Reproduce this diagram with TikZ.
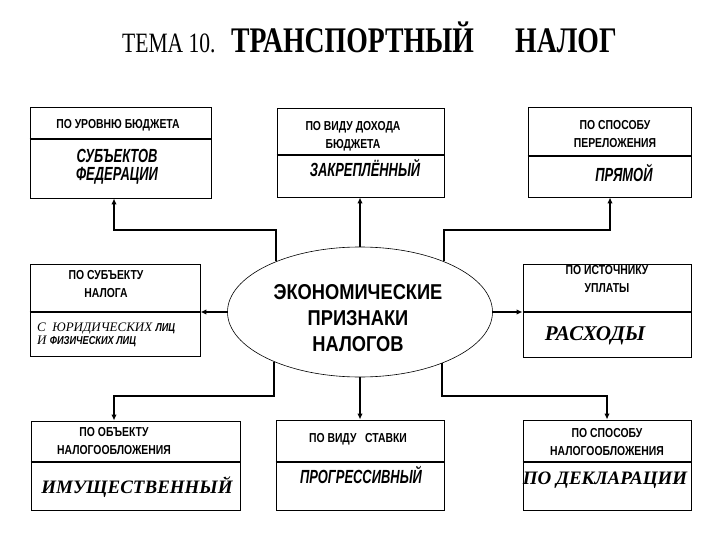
\documentclass[tikz,border=0pt]{standalone}
\usepackage{fontspec}
\setmainfont{Liberation Serif}
\newfontfamily\ttlf[FakeStretch=0.77]{Liberation Serif}
\newfontfamily\hdf[FakeStretch=0.8]{Liberation Sans}
\newfontfamily\vlf[FakeStretch=0.68]{Liberation Sans}
\newfontfamily\elf[FakeStretch=0.85]{Liberation Sans}
\usetikzlibrary{shapes.geometric,arrows.meta}
\begin{document}
\begin{tikzpicture}[x=1pt,y=-1pt,
  box/.style={draw, line width=0.9pt, inner sep=0pt},
  divline/.style={line width=1.6pt},
  conn/.style={line width=1.6pt, -{Latex[length=6pt,width=5.5pt]}},
  hdr/.style={font=\hdf\bfseries\fontsize{13}{18}\selectfont, align=center, inner sep=0pt},
  val/.style={font=\vlf\bfseries\itshape\fontsize{19}{18}\selectfont, align=center, inner sep=0pt},
  tval/.style={font=\bfseries\itshape\fontsize{19}{22}\selectfont, inner sep=0pt},
  ttl/.style={inner sep=0pt, anchor=base west},
]
\useasboundingbox (0,0) rectangle (720,540);

% title
\node[ttl, font=\ttlf\fontsize{28}{30}\selectfont] (t1) at (122,53) {ТЕМА 10.};
\node[ttl, font=\ttlf\bfseries\fontsize{36}{38}\selectfont] (t2) at (231,53) {ТРАНСПОРТНЫЙ};
\node[ttl, font=\ttlf\bfseries\fontsize{36}{38}\selectfont] (t3) at (515,53) {НАЛОГ};

% boxes
\node[box, minimum width=181pt, minimum height=91pt] (tl) at (120.5,152.5) {};
\node[box, minimum width=167pt, minimum height=89pt] (tm) at (360.5,152.5) {};
\node[box, minimum width=163pt, minimum height=90pt] (tr) at (609.5,152) {};
\node[box, minimum width=170pt, minimum height=92pt] (ml) at (115,310) {};
\node[box, minimum width=168pt, minimum height=93pt] (mr) at (607,310.5) {};
\node[box, minimum width=209pt, minimum height=89pt] (bl) at (135.5,465.5) {};
\node[box, minimum width=168pt, minimum height=90pt] (bm) at (360,465) {};
\node[box, minimum width=168pt, minimum height=90pt] (br) at (607,465) {};

% dividers
\draw[divline] (tl.west |- 0,139) -- (tl.east |- 0,139);
\draw[divline] (tm.west |- 0,155) -- (tm.east |- 0,155);
\draw[divline] (tr.west |- 0,156) -- (tr.east |- 0,156);
\draw[divline] (ml.west |- 0,312) -- (ml.east |- 0,312);
\draw[divline] (mr.west |- 0,312) -- (mr.east |- 0,312);
\draw[divline] (bl.west |- 0,462) -- (bl.east |- 0,462);
\draw[divline] (bm.west |- 0,462) -- (bm.east |- 0,462);
\draw[divline] (br.west |- 0,462) -- (br.east |- 0,462);

% headers
\node[hdr] (h1) at (118,125) {ПО УРОВНЮ БЮДЖЕТА};
\node[hdr] (h2) at (353,136) {ПО ВИДУ ДОХОДА\\БЮДЖЕТА};
\node[hdr] (h3) at (615,134) {ПО СПОСОБУ\\ПЕРЕЛОЖЕНИЯ};
\node[hdr] (h4) at (106,284) {ПО СУБЪЕКТУ\\НАЛОГА};
\node[hdr] (h5) at (607,279) {ПО ИСТОЧНИКУ\\УПЛАТЫ};
\node[hdr] (h6) at (114,441) {ПО ОБЪЕКТУ\\НАЛОГООБЛОЖЕНИЯ};
\node[hdr] (h7) at (358,439) {ПО ВИДУ\ \ \ СТАВКИ};
\node[hdr] (h8) at (607,442) {ПО СПОСОБУ\\НАЛОГООБЛОЖЕНИЯ};

% values
\node[val] (v1) at (117,167) {СУБЪЕКТОВ\\ФЕДЕРАЦИИ};
\node[val, anchor=base] (v2) at (365,177) {ЗАКРЕПЛЁННЫЙ};
\node[val, anchor=base] (v3) at (624,182) {ПРЯМОЙ};
\node[tval, anchor=base, font=\bfseries\itshape\fontsize{21}{22}\selectfont] (v5) at (595,340) {РАСХОДЫ};
\node[tval, anchor=base] (v6) at (137,493) {ИМУЩЕСТВЕННЫЙ};
\node[val, anchor=base] (v7) at (361,483) {ПРОГРЕССИВНЫЙ};
\node[tval, anchor=base] (v8) at (605,484) {ПО ДЕКЛАРАЦИИ};
\node[inner sep=0pt, anchor=west, align=left, font=\itshape\fontsize{13}{13.5}\selectfont] (v4) at (37,335)
  {С\ \ ЮРИДИЧЕСКИХ {\hdf\bfseries\fontsize{11.5}{13.5}\selectfont ЛИЦ}\\И {\hdf\bfseries\fontsize{11.5}{13.5}\selectfont ФИЗИЧЕСКИХ ЛИЦ}};

% ellipse
\node[draw, ellipse, line width=0.6pt, minimum width=265pt, minimum height=130pt, inner sep=0pt] (ell) at (360,312) {};
\node[font=\elf\bfseries\fontsize{21.5}{26}\selectfont, align=center, inner sep=0pt] (et) at (358,318) {ЭКОНОМИЧЕСКИЕ\\ПРИЗНАКИ\\НАЛОГОВ};

% junction points
\coordinate (j1) at (114,230);
\coordinate (j2) at (610,230);
\coordinate (j3) at (114,396);
\coordinate (j4) at (607,396);

% connectors
\draw[conn] (ell.149.5) |- (j1) -- (j1 |- tl.south);
\draw[conn] (ell.north) -- (ell.north |- tm.south);
\draw[conn] (ell.31.3) |- (j2) -- (j2 |- tr.south);
\draw[conn] (ell.west) -- (ell.west -| ml.east);
\draw[conn] (ell.east) -- (ell.east -| mr.west);
\draw[conn] (ell.210.5) |- (j3) -- (j3 |- bl.north);
\draw[conn] (ell.south) -- (ell.south |- bm.north);
\draw[conn] (ell.328.7) |- (j4) -- (j4 |- br.north);
\end{tikzpicture}
\end{document}
